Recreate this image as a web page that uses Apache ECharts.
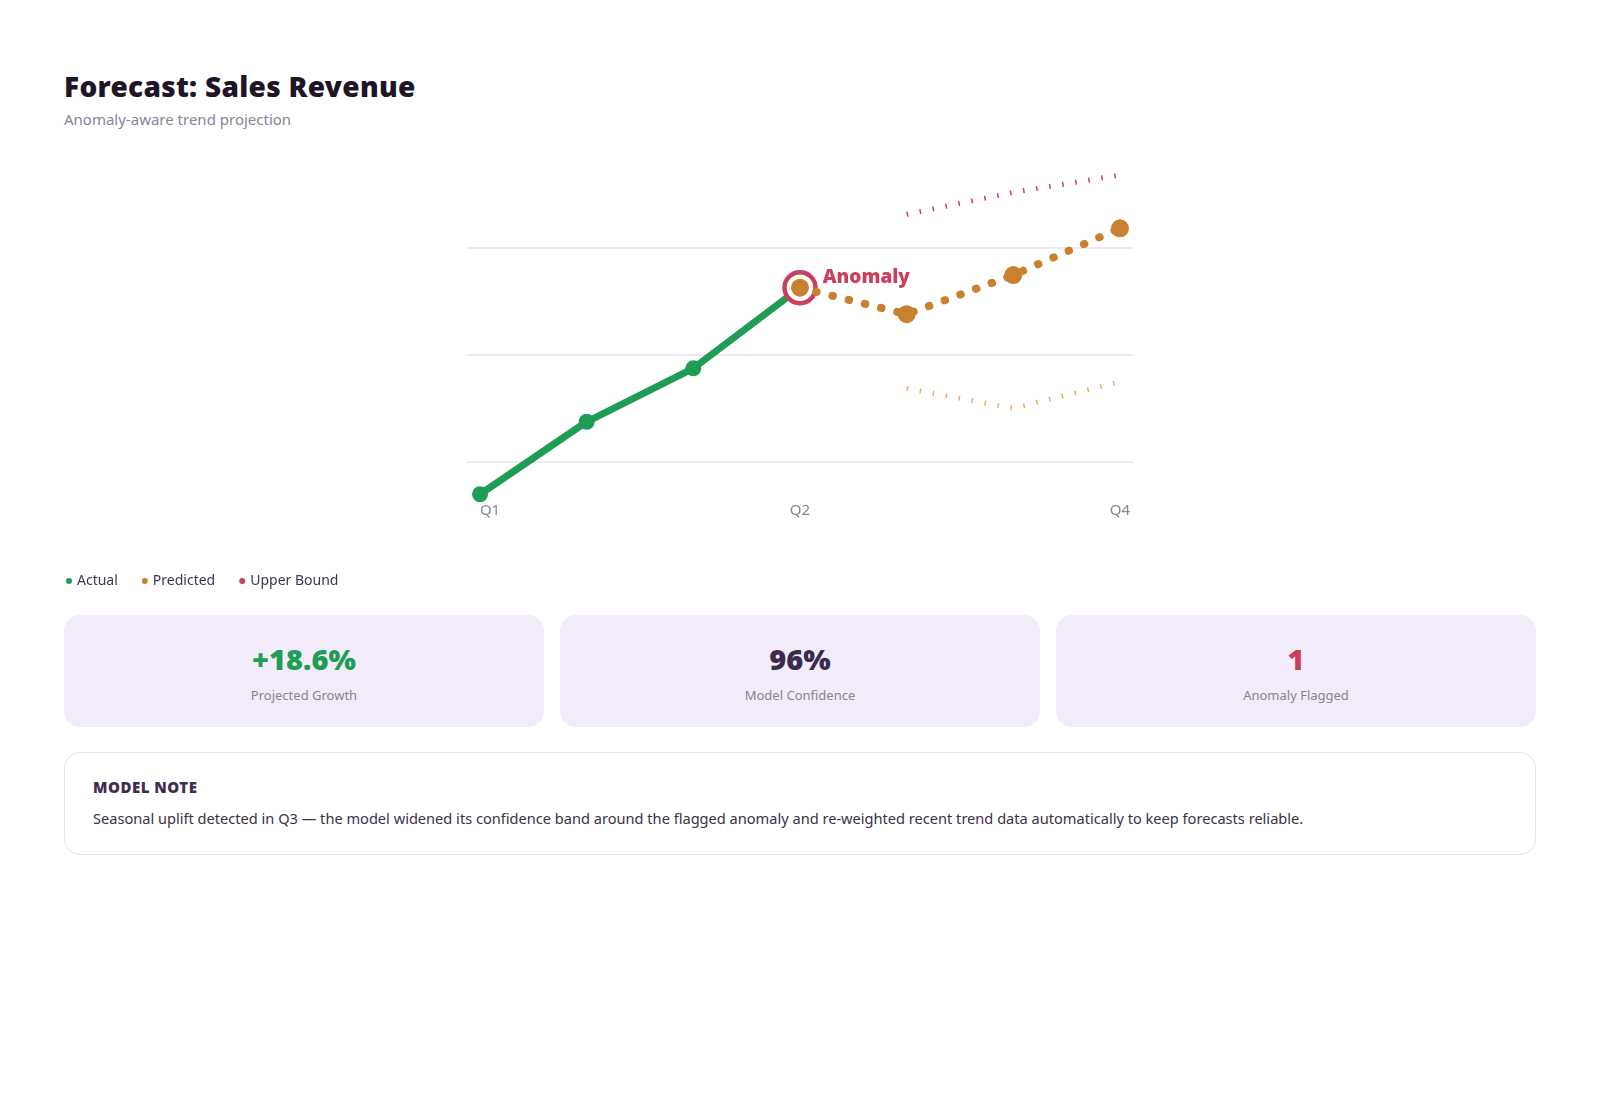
<!DOCTYPE html>
<html>
<head>
<meta charset="utf-8">
<title>Forecast: Sales Revenue</title>
<script src="https://cdn.jsdelivr.net/npm/echarts@6/dist/echarts.min.js"></script>
<style>
    html, body { margin: 0; padding: 0; background: #fff; }
    body { font-family: "Noto Sans", sans-serif; }
    .page { width: 1472px; padding: 0 64px; }
    h1 { margin: 69px 0 0; font-size: 28px; line-height: 34px; font-weight: 900; letter-spacing: 0.3px; color: #1e1626; }
    .sub { margin-top: 6px; font-size: 15px; line-height: 20px; color: #8a8299; }
    #chart { margin-top: 11px; width: 1472px; height: 460px; }
    .cards { margin-top: 15px; display: flex; gap: 16px; }
    .card { flex: 1; height: 112px; box-sizing: border-box; padding-top: 26px; background: #f2ecfa; border-radius: 16px; text-align: center; }
    .card .val { font-size: 29px; line-height: 36px; font-weight: 900; }
    .card .lbl { margin-top: 8px; font-size: 13px; line-height: 20px; color: #8a8299; }
    .note { margin-top: 25px; border: 1px solid #e9e1f3; border-radius: 16px; padding: 24px 28px 25px; }
    .note h3 { margin: 0; font-size: 15px; line-height: 20px; font-weight: 900; letter-spacing: 0.5px; color: #3f2d52; }
    .note p { margin: 10px 0 0; font-size: 14.6px; line-height: 22px; color: #3a3248; }
</style>
</head>
<body>
<div class="page">
    <h1>Forecast: Sales Revenue</h1>
    <div class="sub">Anomaly-aware trend projection</div>
    <div id="chart"></div>
    <div class="cards">
        <div class="card"><div class="val" style="color:#1f9d55">+18.6%</div><div class="lbl">Projected Growth</div></div>
        <div class="card"><div class="val" style="color:#3d2b4f">96%</div><div class="lbl">Model Confidence</div></div>
        <div class="card"><div class="val" style="color:#cc3f5c">1</div><div class="lbl">Anomaly Flagged</div></div>
    </div>
    <div class="note">
        <h3>MODEL NOTE</h3>
        <p>Seasonal uplift detected in Q3 — the model widened its confidence band around the flagged anomaly and re-weighted recent trend data automatically to keep forecasts reliable.</p>
    </div>
</div>
<script>
// positions along the time axis
var periods = [0, 1, 2, 3, 4, 5, 6];
var actual = [84.7, 118.6, 143.6, 181.3, null, null, null];
var predicted = [null, null, null, 181.3, 168.9, 187.2, 209.1];
var upperBound = [null, null, null, null, 215.6, 225.9, 234.0];
var lowerBound = [null, null, null, null, 134.2, 124.9, 137.3];
var tickPositions = [0, 3, 6];
var tickLabels = ['Q1', 'Q2', 'Q4'];
var anomalyIndex = 3;

var green = '#1f9d55';
var orange = '#c9812f';
var red = '#cc3f5c';

function pairs(values) {
    return periods.map(function (p, i) { return [p, values[i]]; })
        .filter(function (d) { return d[1] != null; });
}

var myChart = echarts.init(document.getElementById('chart'));

var option = {
    animation: false,
    textStyle: { fontFamily: 'Noto Sans' },
    grid: { left: 402.7, right: 402.7, top: 22.2, bottom: 95.7 },
    legend: {
        data: ['Actual', 'Predicted', 'Upper Bound'],
        left: 2,
        top: 434,
        padding: 0,
        icon: 'circle',
        itemWidth: 6,
        itemHeight: 6,
        itemGap: 24,
        itemStyle: { borderWidth: 0 },
        textStyle: { fontSize: 14, color: '#3d3552' }
    },
    xAxis: {
        type: 'value',
        min: -0.125,
        max: 6.125,
        axisLine: { show: false },
        axisTick: { show: false },
        splitLine: { show: false },
        axisLabel: {
            customValues: tickPositions,
            margin: -1,
            fontSize: 15,
            color: '#8a8499',
            formatter: function (v) {
                var i = tickPositions.indexOf(v);
                if (i === 0) return '{first|' + tickLabels[i] + '}';
                return i >= 0 ? tickLabels[i] : '';
            },
            rich: {
                first: { fontSize: 15, color: '#8a8499', padding: [0, 0, 0, 20] }
            }
        }
    },
    yAxis: {
        type: 'value',
        min: 80,
        max: 240,
        splitNumber: 3,
        axisLine: { show: false },
        axisTick: { show: false },
        axisLabel: { show: false },
        splitLine: {
            showMinLine: false,
            showMaxLine: false,
            lineStyle: { color: '#eee8f3', width: 2 }
        }
    },
    series: [
        {
            name: 'Actual',
            type: 'line',
            data: pairs(actual),
            color: green,
            symbol: 'circle',
            symbolSize: 16,
            lineStyle: { width: 7, color: green },
            itemStyle: { color: green },
            z: 2
        },
        {
            // ring round the flagged point
            name: 'Anomaly',
            type: 'scatter',
            data: [[periods[anomalyIndex], predicted[anomalyIndex]]],
            symbolSize: 31,
            itemStyle: { color: '#fff', borderColor: red, borderWidth: 4.5, opacity: 1 },
            label: {
                show: true,
                position: 'right',
                distance: 5,
                offset: [0, -10],
                formatter: 'Anomaly',
                color: red,
                fontSize: 19,
                fontWeight: 900
            },
            z: 3
        },
        {
            name: 'Predicted',
            type: 'line',
            data: pairs(predicted),
            color: orange,
            symbol: 'circle',
            symbolSize: 18,
            lineStyle: { width: 8, color: orange, type: [0.5, 16.2], cap: 'round' },
            itemStyle: { color: orange },
            z: 4
        },
        {
            name: 'Upper Bound',
            type: 'line',
            data: pairs(upperBound),
            color: red,
            symbol: 'none',
            lineStyle: { width: 5, color: red, type: [1.5, 11.7], cap: 'butt' },
            itemStyle: { color: red },
            z: 2
        },
        {
            name: 'Lower Bound',
            type: 'line',
            data: pairs(lowerBound),
            color: '#eeae6a',
            symbol: 'none',
            lineStyle: { width: 5, color: '#eeae6a', type: [1.5, 11.7], cap: 'butt' },
            z: 2
        }
    ]
};
myChart.setOption(option, true);
</script>
</body>
</html>
